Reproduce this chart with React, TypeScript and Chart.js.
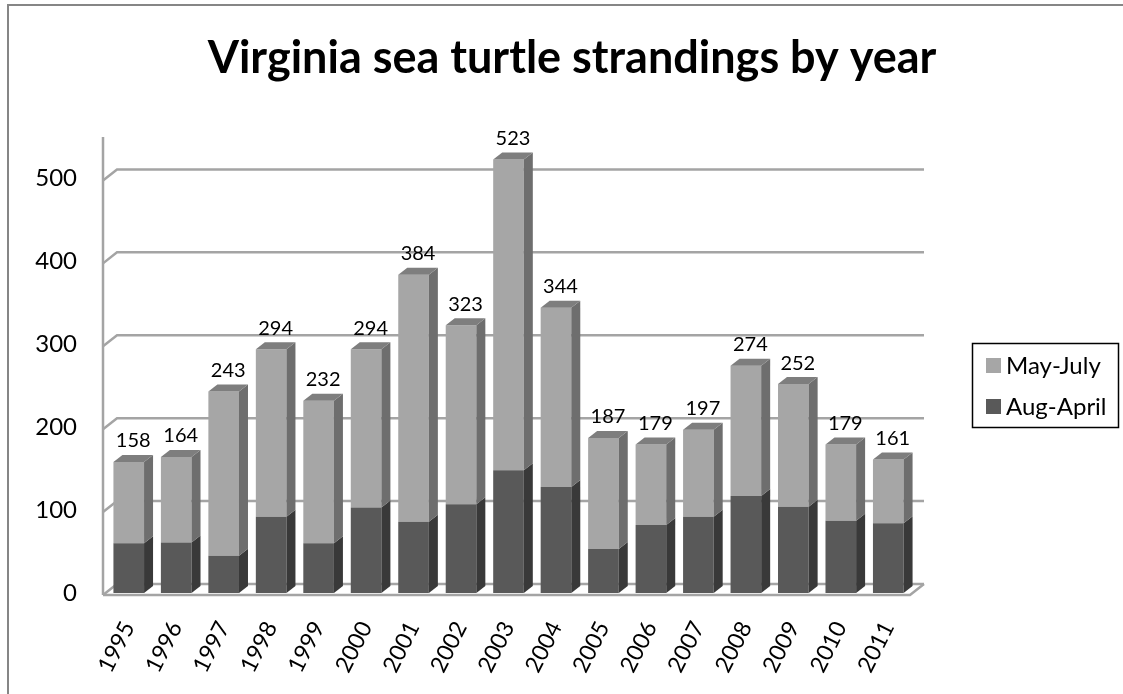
import React, { useEffect, useRef } from "react";
import { Chart, registerables } from "chart.js";

Chart.register(...registerables);

// Strandings per year, split by season
const years = ["1995", "1996", "1997", "1998", "1999", "2000", "2001", "2002", "2003", "2004", "2005", "2006", "2007", "2008", "2009", "2010", "2011"];
const mayJuly = [98, 103, 198, 202, 172, 191, 298, 216, 375, 216, 134, 97, 105, 157, 148, 92, 77];
const augApril = [60, 61, 45, 92, 60, 103, 86, 107, 148, 128, 53, 82, 92, 117, 104, 87, 84];
const seriesNames = ["May-July", "Aug-April"];
const titleText = "Virginia sea turtle strandings by year";

const FONT = "Lato, 'Open Sans', 'DejaVu Sans', sans-serif";
const W = 1123;
const H = 694;

// 3D look: depth of each column and of the back wall / floor
const BAR_DX = 9;
const BAR_DY = -7;
const WALL_DX = 14;
const WALL_DY = -11;
const GRID = "#a4a4a4";

const shades = {
  "May-July": { front: "#a6a6a6", side: "#6e6e6e", top: "#7e7e7e" },
  "Aug-April": { front: "#595959", side: "#393939", top: "#474747" },
};

const poly = (ctx: CanvasRenderingContext2D, pts: number[][], fill: string) => {
  ctx.beginPath();
  ctx.moveTo(pts[0][0], pts[0][1]);
  for (let i = 1; i < pts.length; i++) ctx.lineTo(pts[i][0], pts[i][1]);
  ctx.closePath();
  ctx.fillStyle = fill;
  ctx.fill();
};

const columns3d = {
  id: "columns3d",
  beforeDatasetsDraw(chart: any) {
    const { ctx, chartArea } = chart;
    const y = chart.scales.y;
    const left = chartArea.left - 2;
    const frontRight = chartArea.right - 2;
    const backRight = frontRight + WALL_DX;
    const floorY = y.getPixelForValue(0) + 2;
    ctx.save();
    ctx.strokeStyle = GRID;
    ctx.lineWidth = 2.5;
    ctx.lineJoin = "miter";
    // vertical axis line
    ctx.beginPath();
    ctx.moveTo(left, chartArea.top);
    ctx.lineTo(left, floorY);
    ctx.stroke();
    // gridlines on the back wall
    for (const t of y.ticks) {
      const py = y.getPixelForValue(t.value) + 2;
      ctx.beginPath();
      ctx.moveTo(left, py);
      ctx.lineTo(left + WALL_DX, py + WALL_DY);
      ctx.lineTo(backRight, py + WALL_DY);
      ctx.stroke();
    }
    // floor front and right edges
    ctx.beginPath();
    ctx.moveTo(left, floorY);
    ctx.lineTo(frontRight, floorY);
    ctx.lineTo(backRight, floorY + WALL_DY);
    ctx.stroke();
    ctx.restore();
  },
  afterDatasetsDraw(chart: any) {
    const { ctx } = chart;
    const n = chart.data.datasets.length;
    ctx.save();
    for (let d = 0; d < n; d++) {
      const ds = chart.data.datasets[d];
      const shade = (shades as any)[ds.label];
      const meta = chart.getDatasetMeta(d);
      meta.data.forEach((bar: any) => {
        const { x, y, base, width } = bar.getProps(["x", "y", "base", "width"], true);
        const x2 = x + width / 2;
        const x1 = x - width / 2;
        poly(ctx, [[x2, y], [x2 + BAR_DX, y + BAR_DY], [x2 + BAR_DX, base + BAR_DY], [x2, base]], shade.side);
        if (d === n - 1) {
          poly(ctx, [[x1, y], [x1 + BAR_DX, y + BAR_DY], [x2 + BAR_DX, y + BAR_DY], [x2, y]], shade.top);
        }
      });
    }
    // totals above each column
    const topMeta = chart.getDatasetMeta(n - 1);
    ctx.fillStyle = "#000";
    ctx.font = `20px ${FONT}`;
    ctx.textAlign = "center";
    ctx.textBaseline = "middle";
    topMeta.data.forEach((bar: any, i: number) => {
      const { x, y } = bar.getProps(["x", "y"], true);
      let total = 0;
      chart.data.datasets.forEach((ds: any) => (total += ds.data[i]));
      ctx.fillText(String(total), x + BAR_DX / 2, y - 21);
    });
    ctx.restore();
  },
  afterDraw(chart: any) {
    const { ctx } = chart;
    ctx.save();
    // outer frame
    ctx.strokeStyle = "#868686";
    ctx.lineWidth = 2;
    ctx.beginPath();
    ctx.moveTo(8, H + 2);
    ctx.lineTo(8, 5);
    ctx.lineTo(W + 2, 5);
    ctx.stroke();
    // title
    ctx.fillStyle = "#000";
    ctx.font = `bold 45px ${FONT}`;
    ctx.textAlign = "center";
    ctx.textBaseline = "middle";
    ctx.fillText(titleText, 572, 58);
    // legend
    ctx.strokeStyle = "#000";
    ctx.lineWidth = 1.5;
    ctx.strokeRect(972.5, 343.5, 146, 84);
    ctx.font = `24px ${FONT}`;
    ctx.textAlign = "left";
    seriesNames.forEach((name, i) => {
      const rowY = 365 + i * 41;
      ctx.fillStyle = (shades as any)[name].front;
      ctx.fillRect(986, rowY - 7, 15, 15);
      ctx.fillStyle = "#000";
      ctx.fillText(name, 1006, rowY + 1);
    });
    ctx.restore();
  },
};

export default function App() {
  const ref = useRef<HTMLCanvasElement>(null);
  useEffect(() => {
    if (!ref.current) return;
    const chart = new Chart(ref.current, {
      type: "bar",
      data: {
        labels: years,
        datasets: [
          { label: seriesNames[1], data: augApril, backgroundColor: shades["Aug-April"].front, borderWidth: 0 },
          { label: seriesNames[0], data: mayJuly, backgroundColor: shades["May-July"].front, borderWidth: 0 },
        ],
      },
      options: {
        responsive: false,
        animation: false,
        devicePixelRatio: 1,
        layout: { padding: { top: 137, right: 211, left: 10, bottom: 0 } },
        datasets: { bar: { categoryPercentage: 1, barPercentage: 0.645 } },
        plugins: {
          legend: { display: false },
          title: { display: false },
          tooltip: { enabled: false },
        },
        scales: {
          x: {
            stacked: true,
            offset: true,
            grid: { display: false },
            border: { display: false },
            ticks: {
              minRotation: 63,
              maxRotation: 63,
              padding: 16,
              color: "#000",
              font: { family: FONT, size: 23 },
            },
            afterFit: (s: any) => {
              s.height = 101;
            },
          },
          y: {
            stacked: true,
            min: 0,
            max: 550,
            grid: { display: false },
            border: { display: false },
            ticks: {
              stepSize: 100,
              includeBounds: false,
              padding: 20,
              color: "#000",
              font: { family: FONT, size: 24 },
            },
            afterFit: (s: any) => {
              s.width = 95;
            },
          },
        },
      },
      plugins: [columns3d],
    });
    return () => chart.destroy();
  }, []);
  return (
    <div style={{ position: "fixed", left: 0, top: 0, width: W, height: H, background: "#fff" }}>
      <canvas ref={ref} width={W} height={H} style={{ display: "block" }} />
    </div>
  );
}
